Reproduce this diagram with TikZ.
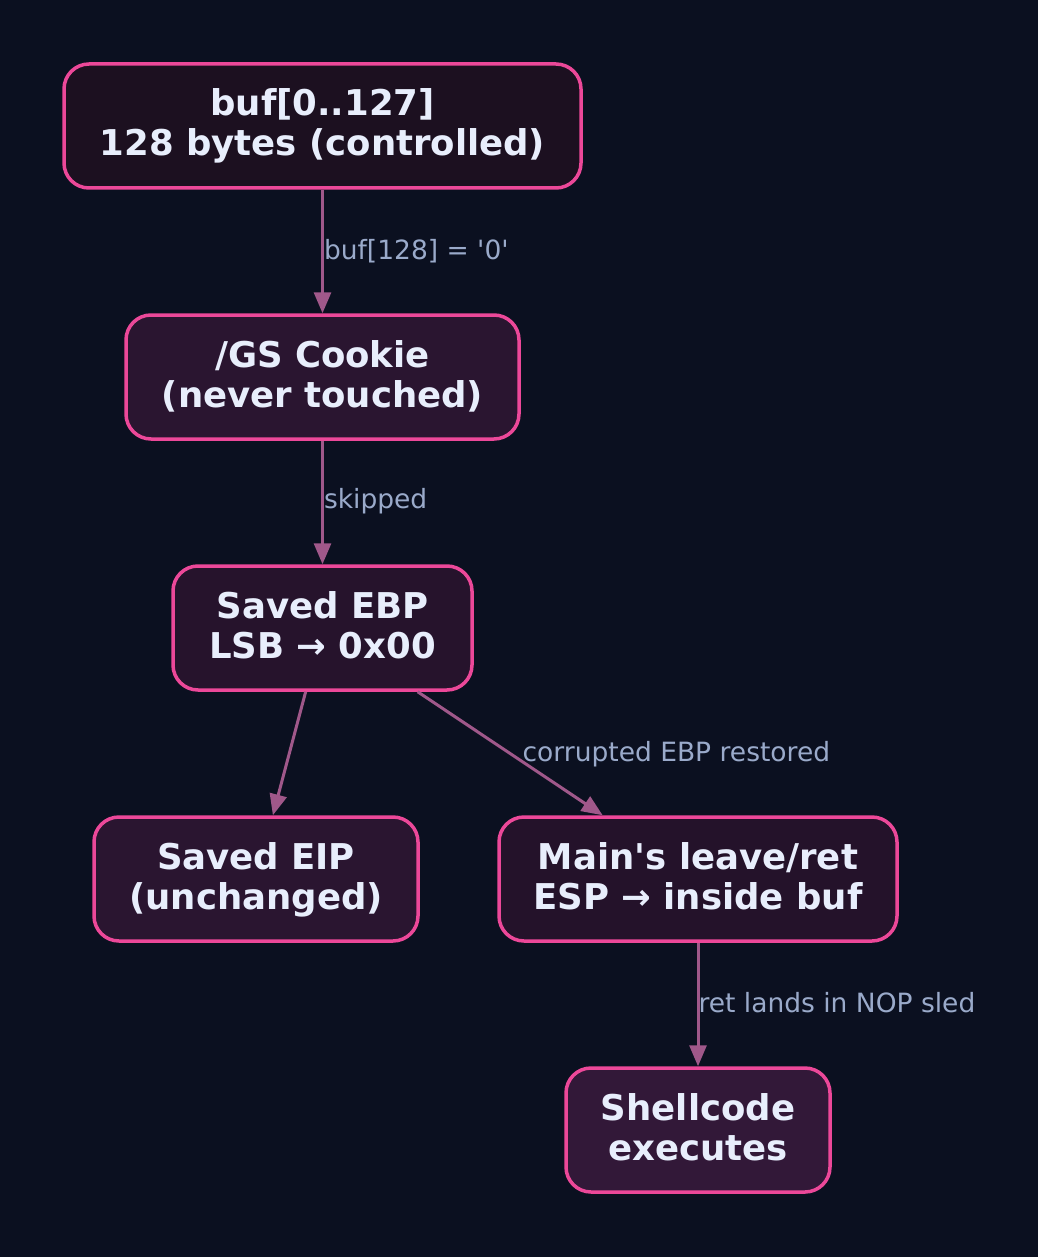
\documentclass[tikz,border=0pt]{standalone}
\usepackage{fontspec}
\setmainfont{DejaVu Sans}[Ligatures=TeXOff]
\usetikzlibrary{arrows.meta}
\definecolor{bgc}{HTML}{0B1020}
\definecolor{bordc}{HTML}{EC4899}
\definecolor{edgec}{HTML}{A0588A}
\definecolor{labc}{HTML}{9AAACA}
\definecolor{txtc}{HTML}{E8EEFC}
\definecolor{fillA}{HTML}{1C1020}
\definecolor{fillB}{HTML}{2A1530}
\definecolor{fillC}{HTML}{26132C}
\definecolor{fillD}{HTML}{24122A}
\definecolor{fillE}{HTML}{321838}
\newcommand\mystrut{\rule[-8pt]{0pt}{36pt}}
\tikzset{
  box/.style={draw=bordc, line width=3.5pt, rounded corners=25pt, minimum height=124pt,
    inner sep=0pt, align=center, text=txtc,
    font=\fontsize{35.5}{40}\selectfont\bfseries},
  conn/.style={draw=edgec, line width=3pt, -{Triangle[length=21pt,width=17pt]}},
  elab/.style={text=labc, font=\fontsize{26.5}{30}\selectfont, inner sep=0pt}
}
\begin{document}
\begin{tikzpicture}[x=1pt,y=-1pt]
\fill[bgc] (0,0) rectangle (1038,1257);
\useasboundingbox (0,0) rectangle (1038,1257);
\node[box, fill=fillA, minimum width=517pt] (buf) at (322.5,126) {\mystrut buf[0..127]\\\mystrut 128 bytes (controlled)};
\node[box, fill=fillB, minimum width=393pt] (gs) at (322.5,377) {\mystrut /GS Cookie\\\mystrut (never touched)};
\node[box, fill=fillC, minimum width=299pt] (ebp) at (322.5,628) {\mystrut Saved EBP\\\mystrut LSB → 0x00};
\node[box, fill=fillB, minimum width=324pt] (eip) at (256,879) {\mystrut Saved EIP\\\mystrut (unchanged)};
\node[box, fill=fillD, minimum width=398pt] (mainr) at (698,879) {\mystrut Main's leave/ret\\\mystrut ESP → inside buf};
\node[box, fill=fillE, minimum width=264pt] (shell) at (698,1130) {\mystrut Shellcode\\\mystrut executes};
\draw[conn] (buf) -- node[elab, anchor=west, xshift=0pt, yshift=0pt] (l1) {buf[128] = '0'} (gs);
\draw[conn] (gs) -- node[elab, anchor=west, xshift=0pt, yshift=1pt] (l2) {skipped} (ebp);
\draw[conn] (ebp) -- (eip);
\draw[conn] (ebp) -- node[elab, anchor=west, xshift=11pt, yshift=-1pt] (l3) {corrupted EBP restored} (mainr);
\draw[conn] (mainr) -- node[elab, anchor=west, xshift=-1pt, yshift=2pt] (l4) {ret lands in NOP sled} (shell);
\end{tikzpicture}
\end{document}
